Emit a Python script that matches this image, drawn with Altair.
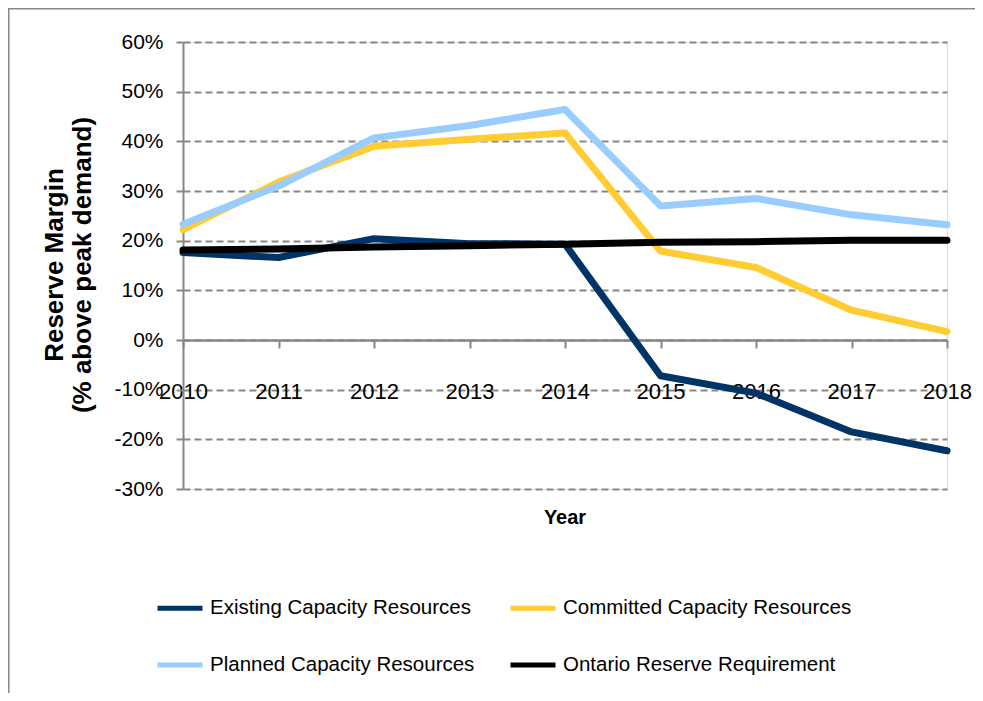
import altair as alt
import pandas as pd

years = [2010, 2011, 2012, 2013, 2014, 2015, 2016, 2017, 2018]
existing = [17.6, 16.6, 20.4, 19.4, 19.3, -7.2, -10.7, -18.5, -22.3]
committed = [22.2, 31.8, 39.0, 40.4, 41.7, 17.9, 14.6, 6.0, 1.7]
planned = [23.3, 31.0, 40.7, 43.2, 46.4, 27.0, 28.5, 25.2, 23.2]
ontario = [18.1, 18.3, 18.7, 19.0, 19.3, 19.7, 19.8, 20.1, 20.1]

series_names = ["Existing Capacity Resources", "Committed Capacity Resources",
                "Planned Capacity Resources", "Ontario Reserve Requirement"]
series_colors = ["#003366", "#FFCC33", "#99CCFF", "#000000"]
series_values = [existing, committed, planned, ontario]
y_ticks = [-30, -20, -10, 0, 10, 20, 30, 40, 50, 60]

rows = []
for name, vals in zip(series_names, series_values):
    for yr, v in zip(years, vals):
        rows.append({"Year": yr, "Series": name, "Value": v})
df = pd.DataFrame(rows)

FONT = "Liberation Sans, Arial, sans-serif"
GRAY = "#878787"

W, H = 764, 447

x_enc = alt.X("Year:Q", scale=alt.Scale(domain=[2010, 2018], nice=False, zero=False),
              axis=alt.Axis(values=years, format="d", title=None, offset=-149,
                            domainColor=GRAY, domainWidth=2.5, tickColor=GRAY, tickWidth=2,
                            tickSize=8, labelFont=FONT, labelFontSize=22, labelColor="#000",
                            labelPadding=33, grid=False, labelFlush=False))
y_enc = alt.Y("Value:Q", scale=alt.Scale(domain=[-30, 60], nice=False, zero=False),
              axis=alt.Axis(values=y_ticks, labelExpr="datum.value + '%'", title=None,
                            domainColor=GRAY, domainWidth=2, tickColor=GRAY, tickWidth=2,
                            tickSize=7, labelFont=FONT, labelFontSize=21, labelColor="#000",
                            labelPadding=13, grid=True, gridColor=GRAY, gridWidth=2,
                            gridDash=[7, 4]))
color_enc = alt.Color("Series:N",
                      scale=alt.Scale(domain=series_names, range=series_colors),
                      legend=alt.Legend(title=None, orient="none", legendX=-28, legendY=541,
                                        columns=2, direction="horizontal",
                                        symbolType="stroke", symbolSize=2025,
                                        symbolStrokeWidth=5, labelFont=FONT,
                                        labelFontSize=20.5, labelColor="#000", labelOffset=5,
                                        columnPadding=25, rowPadding=21, padding=0,
                                        labelLimit=400))

layers = []
for name in series_names:
    layers.append(
        alt.Chart(df).transform_filter(alt.datum.Series == name)
        .mark_line(strokeWidth=7, strokeCap="round", strokeJoin="round")
        .encode(x=x_enc, y=y_enc, color=color_enc)
    )

one = pd.DataFrame({"k": [0]})
title1 = alt.Chart(one).mark_text(text="Reserve Margin", angle=270, font=FONT,
                                  fontWeight="bold", fontSize=26, align="center",
                                  baseline="middle", color="#000").encode(
    x=alt.value(-128), y=alt.value(223))
title2 = alt.Chart(one).mark_text(text="(% above peak demand)", angle=270, font=FONT,
                                  fontWeight="bold", fontSize=26, align="center",
                                  baseline="middle", color="#000").encode(
    x=alt.value(-100), y=alt.value(223))
xtitle = alt.Chart(one).mark_text(text="Year", font=FONT, fontWeight="bold", fontSize=20,
                                  align="center", baseline="middle", color="#000").encode(
    x=alt.value(382), y=alt.value(476))
border_top = alt.Chart(one).mark_rule(color=GRAY, strokeWidth=1.5).encode(
    x=alt.value(-175), x2=alt.value(792), y=alt.value(-33.2))
border_left = alt.Chart(one).mark_rule(color=GRAY, strokeWidth=1.5).encode(
    x=alt.value(-174.2), y=alt.value(-34), y2=alt.value(651))

chart = alt.layer(*layers, title1, title2, xtitle, border_top, border_left).properties(
    width=W, height=H,
    autosize=alt.AutoSizeParams(type="none"),
    padding={"left": 175, "top": 34, "right": 28, "bottom": 204},
).configure_view(stroke=None).configure(background="white")

chart.save("out.html", embed_options={"renderer": "svg", "actions": False})
